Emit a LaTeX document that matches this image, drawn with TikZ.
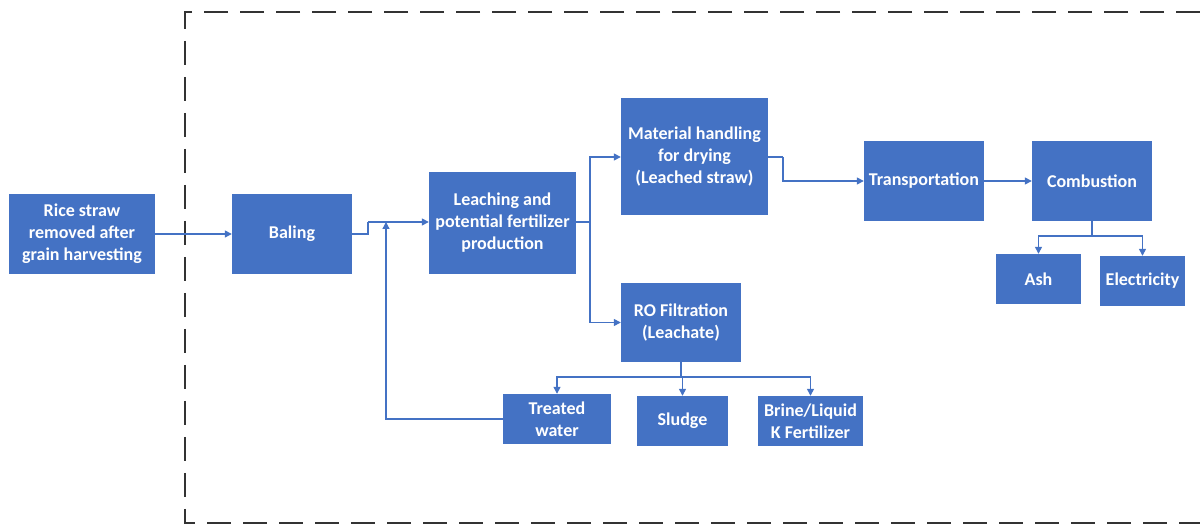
\documentclass[tikz,border=0pt]{standalone}
\usepackage{fontspec}
\setmainfont{Carlito}
\usetikzlibrary{arrows.meta}
\definecolor{boxblue}{HTML}{4472C4}
\definecolor{frame}{HTML}{333333}
\tikzset{
  procbox/.style={fill=boxblue, draw=none, text=white, align=center, inner sep=0pt,
    font=\fontsize{18}{22}\selectfont\bfseries},
  conn/.style={draw=boxblue, line width=1.3pt, -{Triangle[length=7pt,width=7pt]}},
  plain/.style={draw=boxblue, line width=1.3pt},
}
\begin{document}
\begin{tikzpicture}[x=1pt,y=-1pt]
\useasboundingbox (0,0) rectangle (1200,526);
% system boundary (open on the right)
\draw[frame, line width=1.8pt, dash pattern=on 24pt off 12pt]
  (1200,12) -- (185,12) -- (185,523) -- (1200,523);

% process boxes
\node[procbox, minimum width=146pt, minimum height=80pt] (rice) at (82,234)
  {Rice straw\\removed after\\grain harvesting};
\node[procbox, minimum width=120pt, minimum height=80pt] (baling) at (292,234) {Baling};
\node[procbox, minimum width=147pt, minimum height=102pt] (leach) at (502.5,223)
  {Leaching and\\potential fertilizer\\production};
\node[procbox, minimum width=147pt, minimum height=117pt] (material) at (694.5,157)
  {Material handling\\for drying\\(Leached straw)};
\node[procbox, minimum width=120pt, minimum height=79pt] (ro) at (681,322.5)
  {RO Filtration\\(Leachate)};
\node[procbox, minimum width=120pt, minimum height=80pt] (transport) at (924,181) {Transportation};
\node[procbox, minimum width=120pt, minimum height=80pt] (comb) at (1092,181) {Combustion};
\node[procbox, minimum width=85pt, minimum height=50pt] (ash) at (1038.5,279) {Ash};
\node[procbox, minimum width=85pt, minimum height=50pt] (elec) at (1142.5,281) {Electricity};
\node[procbox, minimum width=108pt, minimum height=50pt] (treated) at (557,419) {Treated\\water};
\node[procbox, minimum width=91pt, minimum height=50pt] (sludge) at (682.5,421) {Sludge};
\node[procbox, minimum width=105pt, minimum height=50pt] (brine) at (810.5,421)
  {Brine/Liquid\\K Fertilizer};

% junction points
\coordinate (j1) at (368,222);
\coordinate (ret) at (386,222);
\coordinate (s1) at (590,222);
\coordinate (m1) at (783,157);
\coordinate (c1) at (1092,236);
\coordinate (r1) at (681,377);

% connectors
\draw[conn] (rice.east) -- (baling.west);
\draw[plain] (baling.east) -- (baling.east -| j1) -- (j1);
\draw[conn] (j1) -- (j1 -| leach.west);
\draw[conn] (treated.west) -| (ret);
\draw[plain] (leach.east |- s1) -- (s1);
\draw[conn] (s1) |- (material.west);
\draw[conn] (s1) |- (ro.west);
\draw[plain] (material.east |- m1) -- (m1);
\draw[conn] (m1) |- (transport.west);
\draw[conn] (transport.east) -- (comb.west);
\draw[plain] (comb.south) -- (c1);
\draw[conn] (c1) -| (ash.north);
\draw[conn] (c1) -| (elec.north);
\draw[plain] (ro.south) -- (r1);
\draw[conn] (r1) -| (treated.north);
\draw[conn] (r1) -| (sludge.north);
\draw[conn] (r1) -| (brine.north);
\end{tikzpicture}
\end{document}
